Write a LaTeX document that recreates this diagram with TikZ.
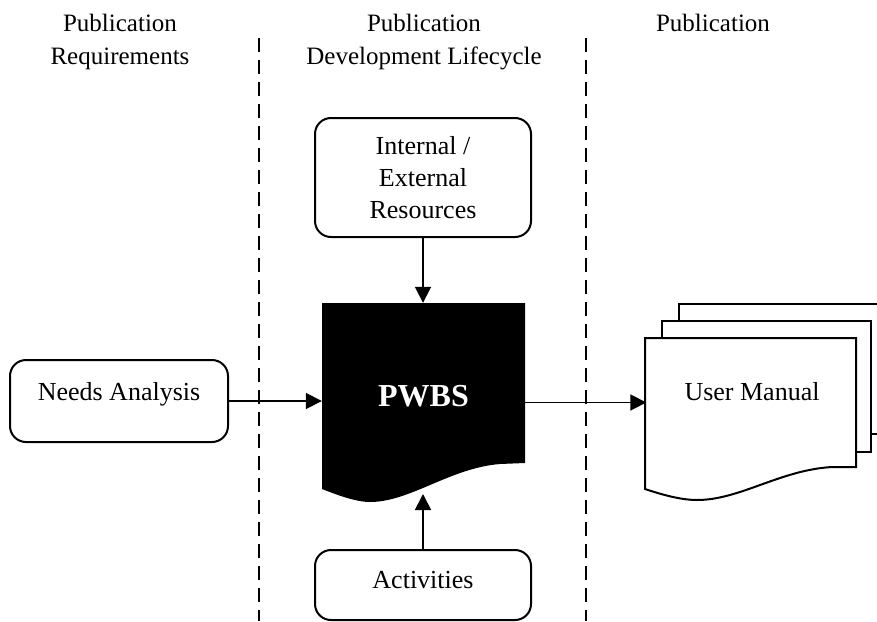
\documentclass[tikz,border=0pt]{standalone}
\usepackage{fontspec}
\setmainfont{Liberation Serif}
\usetikzlibrary{arrows.meta}
\begin{document}
\begin{tikzpicture}[x=1pt,y=-1pt,
  every node/.style={font=\fontsize{26}{32}\selectfont},
  rbox/.style={draw,line width=2pt,rounded corners=16pt,inner sep=0pt},
  conn/.style={line width=1.8pt,-{Triangle[length=16pt,width=16pt]}},
  divider/.style={line width=1.6pt,dash pattern=on 14pt off 8pt},
  header/.style={align=center,anchor=base,font=\fontsize{25}{33}\selectfont},
  page/.style={draw,fill=white,line width=2pt,line join=miter}]
\useasboundingbox (0,0) rectangle (877,621);
% headers
\node[header] (h1) at (120,64) {Publication\\Requirements};
\node[header] (h2) at (424,64) {Publication\\Development Lifecycle};
\node[header] (h3) at (713,31) {Publication};
% dividers
\coordinate (d1t) at (259,38); \coordinate (d1b) at (259,621);
\coordinate (d2t) at (586,38); \coordinate (d2b) at (586,621);
\draw[divider] (d1t) -- (d1b);
\draw[divider] (d2t) -- (d2b);
% boxes
\node[rbox,minimum width=218pt,minimum height=82pt,text height=18pt,text depth=20pt] (needs) at (119,401) {Needs Analysis};
\node[rbox,minimum width=216pt,minimum height=119pt,align=center] (res) at (423,177.5) {Internal /\\External\\Resources};
\node[rbox,minimum width=216pt,minimum height=70pt,text height=18pt,text depth=12pt] (act) at (423,585) {Activities};
% PWBS document shape
\fill (322,303) -- (525,303) -- (525,463) -- (500,464)
  .. controls (450,468) and (410,502) .. (370,502)
  .. controls (355,502) and (335,494) .. (322,489) -- cycle;
\node[minimum width=203pt,minimum height=186pt,inner sep=0pt,text=white,font=\fontsize{32}{36}\selectfont\bfseries] (pwbs) at (423.5,396) {PWBS};
\coordinate (pwbsb) at (423,494);
% User manual pages
\begin{scope}
\clip (0,0) rectangle (877,621);
\draw[page] (679,304) rectangle (890,434);
\draw[page] (662,321) rectangle (871,452);
\draw[page] (645,338) -- (856,338) -- (856,467) -- (832,467)
  .. controls (780,470) and (740,500) .. (697,500)
  .. controls (680,500) and (660,494) .. (645,489) -- cycle;
\end{scope}
\node[minimum width=211pt,minimum height=129pt,inner sep=0pt,text height=18pt,text depth=23pt] (manual) at (752,402.5) {User Manual};
% connectors
\draw[conn] (needs.east) -- (needs.east -| pwbs.west);
\draw[conn] (res.south) -- (res.south |- pwbs.north);
\draw[conn] (act.north) -- (pwbsb);
\draw[conn] (manual.west -| pwbs.east) -- (manual.west);
\end{tikzpicture}
\end{document}
